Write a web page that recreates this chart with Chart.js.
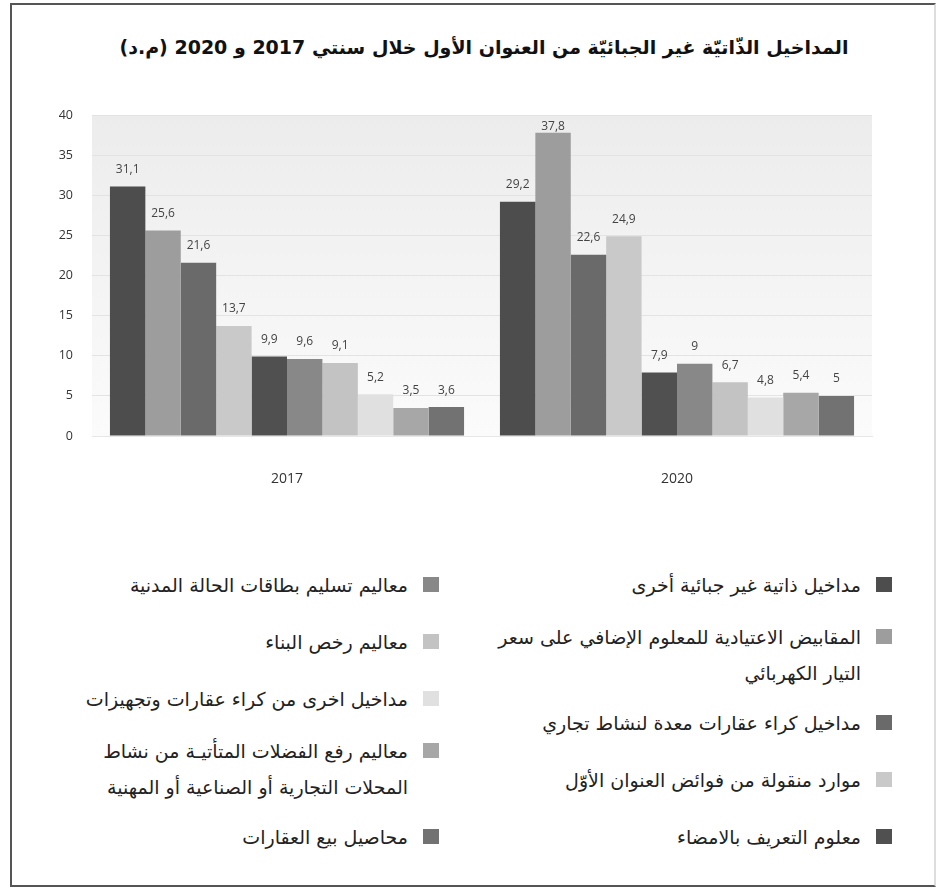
<!DOCTYPE html>
<html lang="ar">
<head>
<meta charset="utf-8">
<script src="https://cdn.jsdelivr.net/npm/chart.js@4/dist/chart.umd.min.js"></script>
<style>
	html, body { margin: 0; padding: 0; background: #fff; }
	#wrap { position: relative; width: 938px; height: 893px; overflow: hidden; }
	#frame { position: absolute; left: 10px; top: 3px; width: 926px; height: 884px;
		border: 2px solid #555; border-right-color: #ddd; box-sizing: border-box; }
	#chart { position: absolute; left: 0; top: 0; }
	#title { position: absolute; left: 30px; width: 908px; top: 34px; margin: 0; text-align: center;
		direction: rtl; font: bold 19px 'DejaVu Sans', sans-serif; color: #111; line-height: 26px; }
	.legend-col { position: absolute; top: 567px; direction: rtl; font-family: 'DejaVu Sans', sans-serif;
		font-size: 19px; color: #222; }
	.legend-item { display: flex; align-items: flex-start; margin-bottom: 21px; line-height: 36px; white-space: nowrap; }
	.legend-item.multi { margin-top: -5px; margin-bottom: 14px; }
	.legend-box { width: 16px; height: 15px; margin: 10px 0 0 15px; flex: none; }
</style>
</head>
<body>
<div id="wrap">
	<div id="frame"></div>
	<h1 id="title">المداخيل الذّاتيّة غير الجبائيّة من العنوان الأول خلال سنتي 2017 و 2020 (م.د)</h1>
	<canvas id="chart" width="938" height="500"></canvas>
	<div class="legend-col" id="legendRight" style="right:46px"></div>
	<div class="legend-col" id="legendLeft" style="right:499px"></div>
</div>
<script>
var years = ['2017', '2020'];

var seriesNames = [
	'مداخيل ذاتية غير جبائية أخرى',
	['المقابيض الاعتيادية للمعلوم الإضافي على سعر', 'التيار الكهربائي'],
	'مداخيل كراء عقارات معدة لنشاط تجاري',
	'موارد منقولة من فوائض العنوان الأوّل',
	'معلوم التعريف بالامضاء',
	'معاليم تسليم بطاقات الحالة المدنية',
	'معاليم رخص البناء',
	'مداخيل اخرى من كراء عقارات وتجهيزات',
	['معاليم رفع الفضلات المتأتيـة من نشاط', 'المحلات التجارية أو الصناعية أو المهنية'],
	'محاصيل بيع العقارات'
];

var values2017 = [31.1, 25.6, 21.6, 13.7, 9.9, 9.6, 9.1, 5.2, 3.5, 3.6];
var values2020 = [29.2, 37.8, 22.6, 24.9, 7.9, 9, 6.7, 4.8, 5.4, 5];

var greys = ['#4d4d4d', '#9d9d9d', '#6a6a6a', '#c9c9c9', '#505050', '#888888', '#c3c3c3', '#e0e0e0', '#a7a7a7', '#727272'];

var yTicks = [0, 5, 10, 15, 20, 25, 30, 35, 40];

var datasets = [];
for (var i = 0; i < seriesNames.length; i++) {
	datasets.push({
		label: seriesNames[i],
		data: [values2017[i], values2020[i]],
		backgroundColor: greys[i],
		barPercentage: 1,
		categoryPercentage: 0.908
	});
}

function fmt(v) {
	return String(v).replace('.', ',');
}

// light grey gradient behind the bars
var plotBackground = {
	id: 'plotBackground',
	beforeDraw: function (chart) {
		var a = chart.chartArea, ctx = chart.ctx;
		var g = ctx.createLinearGradient(0, a.top, 0, a.bottom);
		g.addColorStop(0, '#ececec');
		g.addColorStop(1, '#fbfbfb');
		ctx.save();
		ctx.fillStyle = g;
		ctx.fillRect(a.left, a.top, a.right - a.left, a.bottom - a.top);
		ctx.restore();
	}
};

// value written above each bar, decimal comma
var barValues = {
	id: 'barValues',
	afterDatasetsDraw: function (chart) {
		var ctx = chart.ctx, top = chart.chartArea.top;
		ctx.save();
		ctx.font = '12px "Open Sans", sans-serif';
		ctx.fillStyle = '#444';
		ctx.textAlign = 'center';
		ctx.textBaseline = 'middle';
		chart.data.datasets.forEach(function (ds, di) {
			chart.getDatasetMeta(di).data.forEach(function (bar, k) {
				var y = Math.max(bar.y - 17, top + 12);
				ctx.fillText(fmt(ds.data[k]), bar.x, y);
			});
		});
		ctx.restore();
	}
};

var chart = new Chart(document.getElementById('chart').getContext('2d'), {
	type: 'bar',
	data: { labels: years, datasets: datasets },
	options: {
		responsive: false,
		animation: false,
		layout: { padding: { left: 50, right: 66, top: 115, bottom: 0 } },
		plugins: {
			legend: { display: false },
			tooltip: { enabled: false }
		},
		scales: {
			x: {
				grid: { display: false, drawTicks: false },
				border: { display: true, color: '#e6e6e6' },
				ticks: { color: '#333', padding: 35, font: { family: '"Open Sans", sans-serif', size: 14 } },
				afterFit: function (s) { s.height = 64; }
			},
			y: {
				min: 0,
				max: 40,
				afterBuildTicks: function (s) { s.ticks = yTicks.map(function (v) { return { value: v }; }); },
				grid: { color: '#e3e3e3', drawTicks: false },
				border: { display: false },
				ticks: { color: '#333', padding: 19, font: { family: '"Open Sans", sans-serif', size: 12.5 } },
				afterFit: function (s) { s.width = 42; }
			}
		}
	},
	plugins: [plotBackground, barValues]
});

// two-column legend, first half on the right
function legendItem(name, colour) {
	var item = document.createElement('div');
	item.className = 'legend-item' + (Array.isArray(name) ? ' multi' : '');
	var box = document.createElement('span');
	box.className = 'legend-box';
	box.style.background = colour;
	var text = document.createElement('span');
	text.innerHTML = [].concat(name).join('<br>');
	item.appendChild(box);
	item.appendChild(text);
	return item;
}

var half = Math.ceil(seriesNames.length / 2);
seriesNames.forEach(function (name, i) {
	var col = document.getElementById(i < half ? 'legendRight' : 'legendLeft');
	col.appendChild(legendItem(name, greys[i]));
});
</script>
</body>
</html>
